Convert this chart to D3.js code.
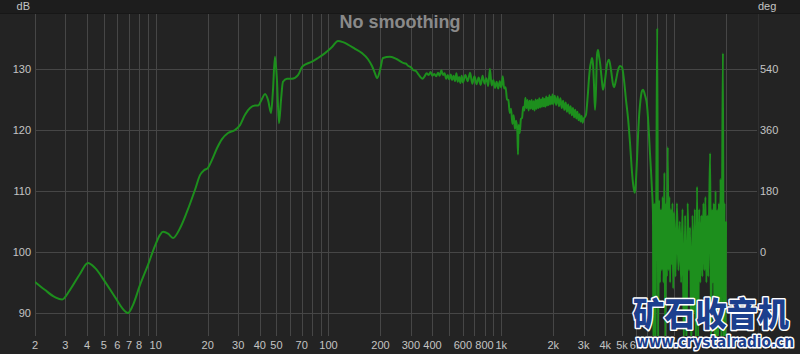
<!DOCTYPE html>
<html><head><meta charset="utf-8">
<script src="https://cdn.jsdelivr.net/npm/d3@7"></script>
<style>html,body{margin:0;padding:0;background:#232323;overflow:hidden}svg{display:block}</style>
</head><body><svg id="c" width="800" height="354"></svg>
<script>
// ---- data: [frequency Hz, SPL dB] ----
const responseLow = [
  [2,95.1],[2.28,93.8],[2.61,92.6],[2.87,92.2],[3.19,93.8],[3.64,96.4],[4.05,98.2],[4.45,97.4],
  [5.09,95.1],[5.81,92.6],[6.64,90.3],[6.91,90.0],[7.38,91.3],[8.11,94.6],[9.02,97.9],[9.9,101.0],
  [10.58,102.8],[11.02,103.3],[11.78,103.0],[12.59,102.3],[13.82,103.9],[15.17,106.6],[16.88,110.2],
  [18.04,112.6],[19.04,113.4],[20.07,113.8],[21.16,115.1],[22.62,117.0],[24.18,118.5],[26.2,119.5],
  [28.75,120.0],[30.74,120.8],[32.86,122.5],[35.13,123.6],[37.55,124.0],[39.08,124.0],[41.2,125.1],
  [42.9,125.9],[44.7,124.9],[46.5,122.8],[47.7,126.5],[49.0,132.0],[50.3,128.2],[51.7,121.1],
  [53.1,124.9],[54.5,127.9],[57.5,128.4],[61.5,128.4],[66.6,129.0],[70.2,130.3],[74.1,130.8],
  [80.3,131.2],[87,131.8],[95.5,132.6],[104.8,133.6],[113.5,134.6],[121.3,134.4],[129.7,134.0],
  [142.4,133.3],[156.3,132.6],[169.3,131.6],[178.6,130.5],[185.9,129.3],[190.9,128.5],[198.7,129.8],
  [206.8,131.8],[227,132.0],[249.2,131.6],[270,131.0]
];
const responseMid = [
  [280,130.9],[290,130.5],[300,130.3],[310,129.8],[320,129.7],[330,129.2],[340,128.7],[350,128.4],
  [360,128.8],[370,129.3],[380,129.0],[390,129.5],[400,128.9],[410,129.2],[420,128.8],[430,129.4],
  [440,128.9],[450,129.8],[460,129.0],[470,129.3],[480,128.4],[490,129.0],[500,128.3],[510,129.1],
  [520,128.2],[530,128.9],[540,128.0],[550,129.3],[560,127.9],[570,128.7],[580,127.7],[590,128.9],
  [600,127.8],[620,129.0],[640,128.0],[660,129.4],[680,127.6],[700,128.8],[720,127.5],[740,128.6],
  [760,127.4],[780,128.9],[800,127.6],[820,128.5],[840,127.2],[860,130.0],[880,127.3],[900,128.2],
  [920,126.9],[940,127.9],[960,126.8],[980,128.0],[1000,127.0]
];
const responseUpper = [
  [1020,128.8],[1040,126.8],[1060,127.0],[1080,125.0],[1100,124.9],[1120,122.8],[1140,123.5],
  [1160,121.0],[1180,122.4],[1200,120.2],[1220,121.5],[1240,119.6],[1250,116.0],[1260,120.8],
  [1280,119.5],[1300,121.8],[1320,122.0],[1340,123.8],[1360,123.2],[1380,125.3],[1400,123.6],
  [1420,124.9],[1440,123.2],[1460,124.8],[1480,123.5],[1500,124.9],[1520,123.4],[1540,124.7],
  [1560,123.2],[1580,125.0],[1600,123.5],[1620,124.9],[1640,123.6],[1660,125.2],[1680,123.7],
  [1700,125.0],[1720,123.8],[1740,125.3],[1760,123.9],[1780,125.1],[1800,123.8],[1820,125.5],
  [1840,124.0],[1860,125.3],[1880,124.1],[1900,125.7],[1920,124.2],[1940,125.4],[1960,124.3],
  [1980,125.8],[2000,124.2],[2040,125.6],[2080,124.1],[2120,125.5],[2160,123.9],[2200,125.2],
  [2240,123.6],[2280,124.8],[2320,123.3],[2360,124.5],[2400,123.0],[2440,124.2],[2480,122.7],
  [2520,123.9],[2560,122.4],[2600,123.6],[2640,122.1],[2680,123.3],[2720,121.9],[2760,123.0],
  [2800,121.6],[2840,122.6],[2880,121.4],[2920,122.3],[2960,121.2],[3000,121.8]
];
const responsePeaks = [
  [3095,122.5],[3137,124.1],[3179,126.2],[3221,128.5],[3264,130.2],[3308,131.1],[3353,131.8],
  [3398,130.8],[3443,127.4],[3489,123.3],[3536,126.6],[3584,132.3],[3631,133.1],[3680,132.1],
  [3730,131.1],[3780,129.5],[3830,127.9],[3882,126.6],[3988,128.2],[4094,130.7],[4206,131.5],
  [4320,129.8],[4435,127.5],[4494,127.0],[4616,128.2],[4740,129.8],[4870,130.5],[5001,130.3],
  [5136,128.2],[5276,124.9],[5417,122.0],[5564,117.9],[5714,113.1],[5791,111.3],[5868,110.2],
  [5946,109.7],[6026,111.8],[6106,115.1],[6188,118.9],[6270,122.0],[6357,124.1],[6442,125.6],
  [6528,126.4],[6614,126.6],[6795,125.7],[6978,124.1],[7073,122.0],[7166,119.2],[7262,116.2],
  [7358,113.4],[7458,110.2],[7558,106.4]
];
const responseNoise = [
  [7600,84],[7700,108],[7800,84],[7900,110],[8000,136.7],[8100,86],[8200,108.5],[8300,95],
  [8400,107],[8500,97],[8600,109],[8700,95],[8800,113],[8900,85],[9000,108],[9100,96],
  [9200,117.2],[9300,97],[9400,109],[9500,95],[9600,107],[9700,98],[9800,108],[9900,94],
  [10000,106.5],[10200,96],[10400,108],[10600,97],[10800,105],[11000,95],[11200,107],[11400,85],
  [11600,106],[11800,84],[12000,108],[12200,97],[12400,104],[12600,84],[12800,106],[13000,90],
  [13200,107],[13400,84],[13600,110.7],[13800,86],[14000,107],[14200,95],[14400,106],[14600,96],
  [14800,108],[15000,97],[15200,109],[15400,95],[15600,106],[15800,96],[16000,108],[16200,116.2],
  [16400,85],[16600,107],[16800,95],[17000,108],[17200,84],[17400,110],[17600,86],[17800,107],
  [18000,84],[18200,108],[18400,90],[18600,112],[18800,84],[19000,110],[19200,132.6],[19400,84],
  [19600,108],[19800,84],[20000,105]
];

const gridFreqs = [2,3,4,5,6,7,8,9,10,20,30,40,50,60,70,80,90,100,200,300,400,500,600,700,800,900,
  1000,2000,3000,4000,5000,6000,7000,8000,9000,10000,20000];
const xTickValues = [2,3,4,5,6,7,8,10,20,30,40,50,70,100,200,300,400,600,800,1000,2000,3000,4000,5000,6000];
const xTickLabels = ["2","3","4","5","6","7","8","10","20","30","40","50","70","100","200","300","400","600","800","1k","2k","3k","4k","5k","6k"];
const dbTicks = [90,100,110,120,130];
const degTicks = [0,180,360,540];
const titleText = "No smoothing";

// ---- layout ----
const W = 800, H = 354;
const plot = {left:35, right:757, top:14, bottom:336};
const svg = d3.select("#c");
const x = d3.scaleLog().domain([2, 30236]).range([plot.left, plot.right]);
const y = d3.scaleLinear().domain([90, 130]).range([313, 69]);
const yDeg = d3.scaleLinear().domain([0, 540]).range([y(100), y(130)]);
const font = "'Liberation Sans', Arial, sans-serif";

svg.append("rect").attr("width", W).attr("height", H).attr("fill", "#232323");
svg.append("rect").attr("width", W).attr("height", 13).attr("fill", "#1d1d1d");
svg.append("line").attr("x1",0).attr("x2",W).attr("y1",13.5).attr("y2",13.5).attr("stroke","#171717");

// grid
const grid = svg.append("g").attr("stroke", "#464646").attr("stroke-width", 1);
grid.selectAll("line.v").data(gridFreqs).join("line").attr("class","v")
  .attr("x1", d => Math.round(x(d)) + 0.5).attr("x2", d => Math.round(x(d)) + 0.5)
  .attr("y1", plot.top).attr("y2", plot.bottom);
grid.selectAll("line.h").data(dbTicks).join("line").attr("class","h")
  .attr("x1", plot.left).attr("x2", plot.right)
  .attr("y1", d => Math.round(y(d)) + 0.5).attr("y2", d => Math.round(y(d)) + 0.5);
svg.append("line").attr("x1", plot.right + 1.5).attr("x2", plot.right + 1.5)
  .attr("y1", plot.top).attr("y2", plot.bottom).attr("stroke", "#303030");

// title
svg.append("text").attr("x", 400).attr("y", 28).attr("text-anchor", "middle")
  .attr("font-family", font).attr("font-weight", "bold").attr("font-size", 18)
  .attr("fill", "#8a8a8a").text(titleText);

// curve
svg.append("clipPath").attr("id", "clip").append("rect")
  .attr("x", plot.left).attr("y", plot.top)
  .attr("width", plot.right - plot.left).attr("height", plot.bottom - plot.top);
const data = [].concat(responseLow, responseMid, responseUpper, responsePeaks, responseNoise);
const line = d3.line().x(d => x(d[0])).y(d => y(d[1])).curve(d3.curveMonotoneX);
svg.append("path").datum(data).attr("clip-path", "url(#clip)")
  .attr("fill", "none").attr("stroke", "#1d8f1d").attr("stroke-width", 2)
  .attr("stroke-linejoin", "round").attr("d", line);

// axes labels
const lab = svg.append("g").attr("font-family", font).attr("font-size", 11).attr("fill", "#c4c4c4");
lab.selectAll("text.l").data(dbTicks).join("text").attr("class","l")
  .attr("x", 31).attr("y", d => y(d)).attr("dy", "0.35em").attr("text-anchor", "end").text(d => d);
lab.append("text").attr("x", 30).attr("y", 10).attr("text-anchor", "end").text("dB");
lab.selectAll("text.r").data(degTicks).join("text").attr("class","r")
  .attr("x", 760).attr("y", d => yDeg(d)).attr("dy", "0.35em").text(d => d);
lab.append("text").attr("x", 758).attr("y", 10).text("deg");
lab.selectAll("text.b").data(xTickValues).join("text").attr("class","b")
  .attr("x", d => x(d)).attr("y", 349).attr("text-anchor", "middle")
  .text((d, i) => xTickLabels[i]);

// watermark
const wm = svg.append("g").attr("fill", "#1c3f8e").attr("stroke", "#ffffff")
  .attr("paint-order", "stroke").attr("stroke-linejoin", "round");
wm.append("text").attr("x", 633).attr("y", 326).attr("textLength", 156)
  .attr("lengthAdjust", "spacingAndGlyphs")
  .attr("font-family", "'Noto Sans CJK SC', sans-serif").attr("font-weight", 900)
  .attr("font-size", 33).attr("stroke-width", 3).text("矿石收音机");
wm.append("text").attr("x", 636).attr("y", 347).attr("textLength", 158)
  .attr("lengthAdjust", "spacingAndGlyphs")
  .attr("font-family", "'DejaVu Sans', sans-serif").attr("font-weight", "bold")
  .attr("font-size", 15).attr("stroke-width", 3).text("www.crystalradio.cn");
</script></body></html>
